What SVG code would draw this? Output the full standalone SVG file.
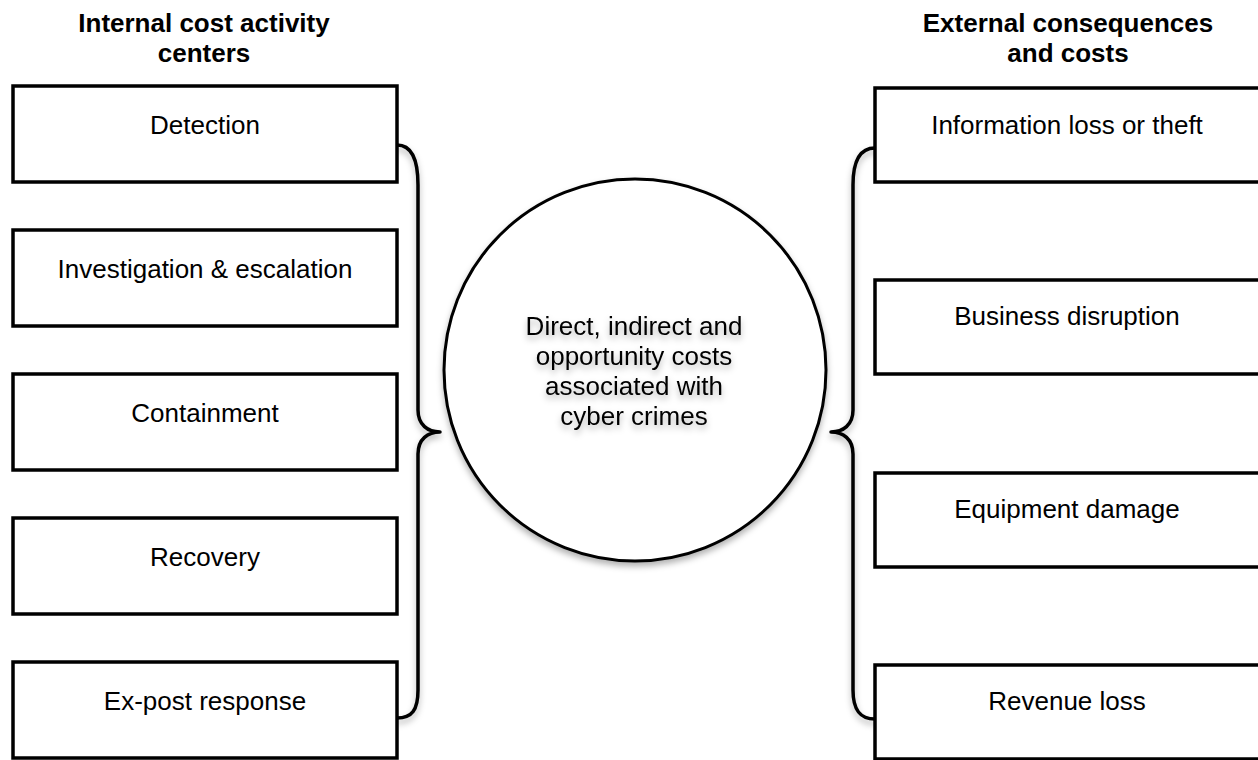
<svg xmlns="http://www.w3.org/2000/svg" width="1258" height="760" viewBox="0 0 1258 760">
  <style>
    .box { fill: #ffffff; stroke: #000000; stroke-width: 3.5; }
    .lbl { font-family: "Liberation Sans", Arial, sans-serif; font-size: 26px; fill: #000000; text-anchor: middle; }
    .hdr { font-family: "Liberation Sans", Arial, sans-serif; font-size: 26px; font-weight: bold; fill: #000000; text-anchor: middle; }
    .brace { fill: none; stroke: #000000; stroke-width: 3.5; stroke-linecap: round; stroke-linejoin: round; }
  </style>
  <defs>
    <filter id="shadow" x="-20%" y="-20%" width="140%" height="140%">
      <feDropShadow dx="0" dy="4" stdDeviation="3" flood-color="#000000" flood-opacity="0.3"/>
    </filter>
  </defs>
  <rect width="1258" height="760" fill="#ffffff"/>

  <g id="header-internal">
    <text class="hdr" x="204" y="32">Internal cost activity</text>
    <text class="hdr" x="204" y="62">centers</text>
  </g>
  <g id="header-external">
    <text class="hdr" x="1068" y="32">External consequences</text>
    <text class="hdr" x="1068" y="62">and costs</text>
  </g>

  <g id="connectors">
    <path class="brace" filter="url(#shadow)" d="M397,145 C412,145 418,160 418,185 L418,410 C418,425 428,432 440,432 C428,432 418,439 418,454 L418,690 C418,710 412,718 397,718"/>
    <path class="brace" filter="url(#shadow)" d="M875,148 C860,148 853,160 853,185 L853,410 C853,425 843,432 831,432 C843,432 853,439 853,454 L853,690 C853,710 860,719 875,719"/>
  </g>

  <g id="box-detection">
    <rect class="box" x="13" y="86" width="384" height="96"/>
    <text class="lbl" x="205" y="134">Detection</text>
  </g>
  <g id="box-investigation">
    <rect class="box" x="13" y="230" width="384" height="96"/>
    <text class="lbl" x="205" y="278">Investigation &amp; escalation</text>
  </g>
  <g id="box-containment">
    <rect class="box" x="13" y="374" width="384" height="96"/>
    <text class="lbl" x="205" y="422">Containment</text>
  </g>
  <g id="box-recovery">
    <rect class="box" x="13" y="518" width="384" height="96"/>
    <text class="lbl" x="205" y="566">Recovery</text>
  </g>
  <g id="box-expost">
    <rect class="box" x="13" y="662" width="384" height="96"/>
    <text class="lbl" x="205" y="710">Ex-post response</text>
  </g>

  <g id="center-circle">
    <circle cx="635" cy="370" r="191" fill="#ffffff" stroke="#000000" stroke-width="3" filter="url(#shadow)"/>
    <g filter="url(#shadow)">
      <text class="lbl" x="634" y="335">Direct, indirect and</text>
      <text class="lbl" x="634" y="365">opportunity costs</text>
      <text class="lbl" x="634" y="395">associated with</text>
      <text class="lbl" x="634" y="425">cyber crimes</text>
    </g>
  </g>

  <g id="box-information">
    <rect class="box" x="875" y="88" width="400" height="94"/>
    <text class="lbl" x="1067" y="134">Information loss or theft</text>
  </g>
  <g id="box-business">
    <rect class="box" x="875" y="280" width="400" height="94"/>
    <text class="lbl" x="1067" y="325">Business disruption</text>
  </g>
  <g id="box-equipment">
    <rect class="box" x="875" y="473" width="400" height="94"/>
    <text class="lbl" x="1067" y="518">Equipment damage</text>
  </g>
  <g id="box-revenue">
    <rect class="box" x="875" y="665" width="400" height="94"/>
    <text class="lbl" x="1067" y="710">Revenue loss</text>
  </g>
</svg>
